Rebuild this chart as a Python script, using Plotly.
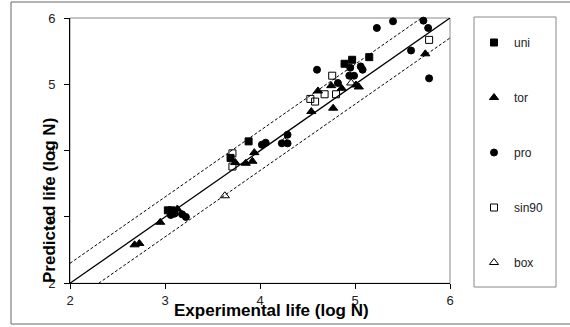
import plotly.graph_objects as go

# Experimental vs predicted fatigue life, log10 of cycles
uni_exp = [3.69, 3.88, 3.03, 3.07, 3.10, 4.89, 4.97, 5.15]
uni_pred = [3.89, 4.14, 3.10, 3.10, 3.08, 5.31, 5.37, 5.41]

tor_exp = [2.68, 2.73, 2.95, 3.13, 3.74, 3.85, 3.92, 3.94, 4.54, 4.77,
           4.61, 4.75, 4.86, 5.01, 5.04, 5.74]
tor_pred = [2.58, 2.60, 2.92, 3.12, 3.82, 3.81, 3.84, 3.97, 4.59, 4.64,
            4.90, 4.98, 4.94, 4.99, 4.96, 5.46]

pro_exp = [3.06, 3.10, 3.18, 3.22, 4.02, 4.06, 4.23, 4.29, 4.29, 4.60,
           4.82, 4.94, 4.99, 4.95, 5.06, 5.08, 5.23, 5.40, 5.72, 5.77,
           5.59, 5.78]
pro_pred = [3.03, 3.05, 3.04, 3.00, 4.09, 4.12, 4.11, 4.11, 4.24, 5.22,
            5.02, 5.13, 5.13, 5.25, 5.27, 5.22, 5.85, 5.95, 5.96, 5.85,
            5.51, 5.09]

sin90_exp = [3.71, 3.71, 4.53, 4.58, 4.68, 4.80, 4.76, 5.78]
sin90_pred = [3.96, 3.76, 4.78, 4.74, 4.85, 4.85, 5.13, 5.67]

box_exp = [3.63, 4.26, 4.96]
box_pred = [3.32, 4.14, 5.02]

axis_range = [2, 6]
tick_vals = [2, 3, 4, 5, 6]
band = 0.301  # factor-of-two scatter band in log units

W, H = 570, 327
FONT = "Liberation Sans, Arial, sans-serif"

fig = go.Figure()

# 1:1 line and factor-of-two bands
fig.add_trace(go.Scatter(x=axis_range, y=axis_range, mode="lines",
                         line=dict(color="black", width=1.3),
                         showlegend=False, hoverinfo="skip"))
fig.add_trace(go.Scatter(x=axis_range, y=[v + band for v in axis_range],
                         mode="lines",
                         line=dict(color="black", width=1, dash="3px,2px"),
                         showlegend=False, hoverinfo="skip"))
fig.add_trace(go.Scatter(x=axis_range, y=[v - band for v in axis_range],
                         mode="lines",
                         line=dict(color="black", width=1, dash="3px,2px"),
                         showlegend=False, hoverinfo="skip"))

series = [
    ("uni", uni_exp, uni_pred, "square", 7),
    ("tor", tor_exp, tor_pred, "triangle-up", 8),
    ("pro", pro_exp, pro_pred, "circle", 7),
    ("sin90", sin90_exp, sin90_pred, "square-open", 7),
    ("box", box_exp, box_pred, "triangle-up-open", 8),
]
for name, xs, ys, sym, size in series:
    fig.add_trace(go.Scatter(
        x=xs, y=ys, mode="markers", name=name, legendgroup=name,
        marker=dict(symbol=sym, size=size, color="black",
                    line=dict(color="black", width=1)),
        cliponaxis=False,
    ))

# plot area in pixels
px_l, px_r, px_t, px_b = 70, 450, 18, 283.3

axis_common = dict(
    range=axis_range, tickvals=tick_vals, showgrid=False, zeroline=False,
    showline=True, linecolor="black", linewidth=1,
    ticks="outside", ticklen=5, tickcolor="black", tickwidth=1,
    tickfont=dict(family=FONT, size=13, color="#222"),
    automargin=False,
)

fig.update_layout(
    width=W, height=H,
    margin=dict(l=0, r=0, t=0, b=0, pad=0),
    paper_bgcolor="white", plot_bgcolor="white",
    xaxis=dict(domain=[px_l / W, px_r / W], **axis_common),
    yaxis=dict(domain=[1 - px_b / H, 1 - px_t / H], ticklabelstandoff=6,
               **axis_common),
    legend=dict(
        x=474 / W, y=1 - 28 / H, xanchor="left", yanchor="top",
        font=dict(family=FONT, size=12, color="#222"),
        tracegroupgap=36, itemwidth=30, bgcolor="rgba(0,0,0,0)",
    ),
    shapes=[
        # outer chart frame
        dict(type="rect", xref="paper", yref="paper",
             x0=11 / W, x1=1.01, y0=1 - 324 / H, y1=1 - 2 / H,
             line=dict(color="#666", width=1), layer="below"),
        # plot area frame
        dict(type="rect", xref="x domain", yref="y domain",
             x0=0, x1=1, y0=0, y1=1,
             line=dict(color="#888", width=1), layer="below"),
        # legend frame
        dict(type="rect", xref="paper", yref="paper",
             x0=474 / W, x1=556 / W, y0=1 - 287 / H, y1=1 - 17 / H,
             line=dict(color="#888", width=1), layer="below"),
    ],
    annotations=[
        dict(text="Experimental life (log N)", xref="paper", yref="paper",
             x=271 / W, y=1 - 310 / H, xanchor="center", yanchor="middle",
             showarrow=False,
             font=dict(family=FONT, size=17, color="black", weight="bold")),
        dict(text="Predicted life (log N)", xref="paper", yref="paper",
             x=49 / W, y=1 - 201 / H, xanchor="center", yanchor="middle",
             textangle=-90, showarrow=False,
             font=dict(family=FONT, size=17, color="black", weight="bold")),
    ],
)

fig.write_html("out.html")
